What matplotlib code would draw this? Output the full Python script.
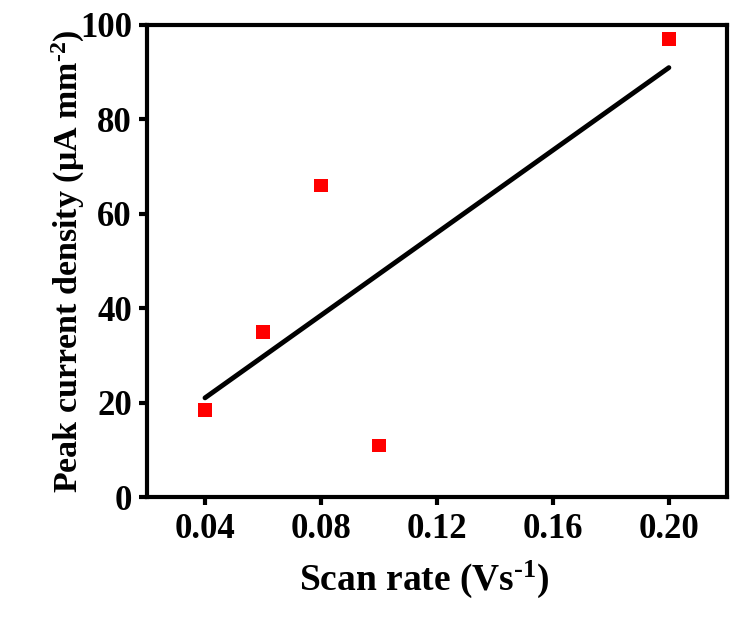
import numpy as np
import matplotlib
matplotlib.use("Agg")
import matplotlib.pyplot as plt

# scan rate (V/s) and peak current density (uA/mm^2)
scan_rate = [0.04, 0.06, 0.08, 0.10, 0.20]
peak_current = [18.5, 35.0, 66.0, 11.0, 97.0]
x_ticks = [0.04, 0.08, 0.12, 0.16, 0.20]
y_ticks = [0, 20, 40, 60, 80, 100]

plt.rcParams["font.family"] = ["Liberation Serif", "DejaVu Serif"]
plt.rcParams["font.weight"] = "bold"
plt.rcParams["mathtext.fontset"] = "custom"
plt.rcParams["mathtext.rm"] = "Liberation Serif:bold"
plt.rcParams["mathtext.it"] = "Liberation Serif:bold"
plt.rcParams["mathtext.bf"] = "Liberation Serif:bold"

fig = plt.figure(figsize=(7.54, 6.2), dpi=100)
ax = fig.add_axes([0.195, 0.198, 0.769, 0.762])

# linear fit through the points
slope, icept = np.polyfit(scan_rate, peak_current, 1)
xf = np.array([min(scan_rate), max(scan_rate)])
ax.plot(xf, slope * xf + icept, color="black", lw=3.5, solid_capstyle="round", zorder=2)
ax.scatter(scan_rate, peak_current, marker="s", s=95, color="#ff0000", edgecolors="none", zorder=3)

ax.set_xlim(0.02, 0.22)
ax.set_ylim(0, 100)
ax.set_xticks(x_ticks)
ax.set_xticklabels([f"{t:.2f}" for t in x_ticks])
ax.set_yticks(y_ticks)

for s in ax.spines.values():
    s.set_linewidth(3)
ax.tick_params(direction="out", length=6, width=3, labelsize=25, pad=5)

ax.set_xlabel("Scan rate (Vs$^{\u20101}$)", fontsize=27, fontweight="bold")
ax.set_ylabel("Peak current density ($\\mu$A mm$^{\u20102}$)", fontsize=24.5, fontweight="bold")
ax.xaxis.set_label_coords(0.478, -0.13)
ax.yaxis.set_label_coords(-0.104, 0.50)

plt.savefig("out.png", dpi=100)
